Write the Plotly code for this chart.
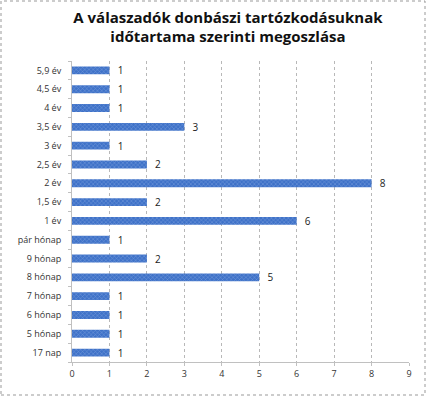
import plotly.graph_objects as go

categories = ["17 nap", "5 hónap", "6 hónap", "7 hónap", "8 hónap", "9 hónap", "pár hónap",
              "1 év", "1,5 év", "2 év", "2,5 év", "3 év", "3,5 év", "4 év", "4,5 év", "5,9 év"]
values = [1, 1, 1, 1, 5, 2, 1, 6, 2, 8, 2, 1, 3, 1, 1, 1]
x_ticks = list(range(0, 10))

fig = go.Figure()
fig.add_trace(go.Bar(
    y=categories, x=values, orientation="h",
    marker=dict(color="#4a7fd0", line=dict(width=0),
                pattern=dict(shape="x", size=3, solidity=0.3, fgcolor="#a8c4ee", bgcolor="#3f72c8")),
    text=["  " + str(v) for v in values], textposition="outside",
    constraintext="none",
    textfont=dict(size=10, color="#222", family="Open Sans"),
    cliponaxis=False,
))

fig.update_layout(
    width=426, height=396,
    margin=dict(l=72, r=17, t=61, b=34, autoexpand=False),
    paper_bgcolor="white", plot_bgcolor="white",
    bargap=0.58,
    showlegend=False,
    title=dict(text="<b>A válaszadók donbászi tartózkodásuknak<br>időtartama szerinti megoszlása</b>",
               x=0.535, xanchor="center", y=0.942, yanchor="top",
               font=dict(family="Open Sans", size=15, color="#111")),
    xaxis=dict(range=[0, 9], tickvals=x_ticks, showgrid=True, gridcolor="#b8b8b8",
               griddash="dot", gridwidth=1, zeroline=False,
               showline=True, linecolor="#c0c0c0", linewidth=1,
               tickfont=dict(family="Open Sans", size=9, color="#333"),
               ticks="outside", ticklen=3, tickcolor="#c0c0c0", automargin=False),
    yaxis=dict(showgrid=False, showline=True, linecolor="#c0c0c0", linewidth=1,
               tickfont=dict(family="Open Sans", size=9, color="#333"),
               ticks="outside", ticklen=3, tickcolor="#c0c0c0", ticklabelstandoff=8,
               tickson="boundaries", automargin=False),
    shapes=[dict(type="rect", xref="paper", yref="paper",
                 x0=-71/337, x1=1 + 16/337,
                 y0=-33/301, y1=1 + 60/301,
                 line=dict(color="#999", width=1, dash="dot"))],
)
fig.write_html("out.html", config={"displayModeBar": False},
               post_script="document.body.style.margin='0';document.body.style.overflow='hidden';")
